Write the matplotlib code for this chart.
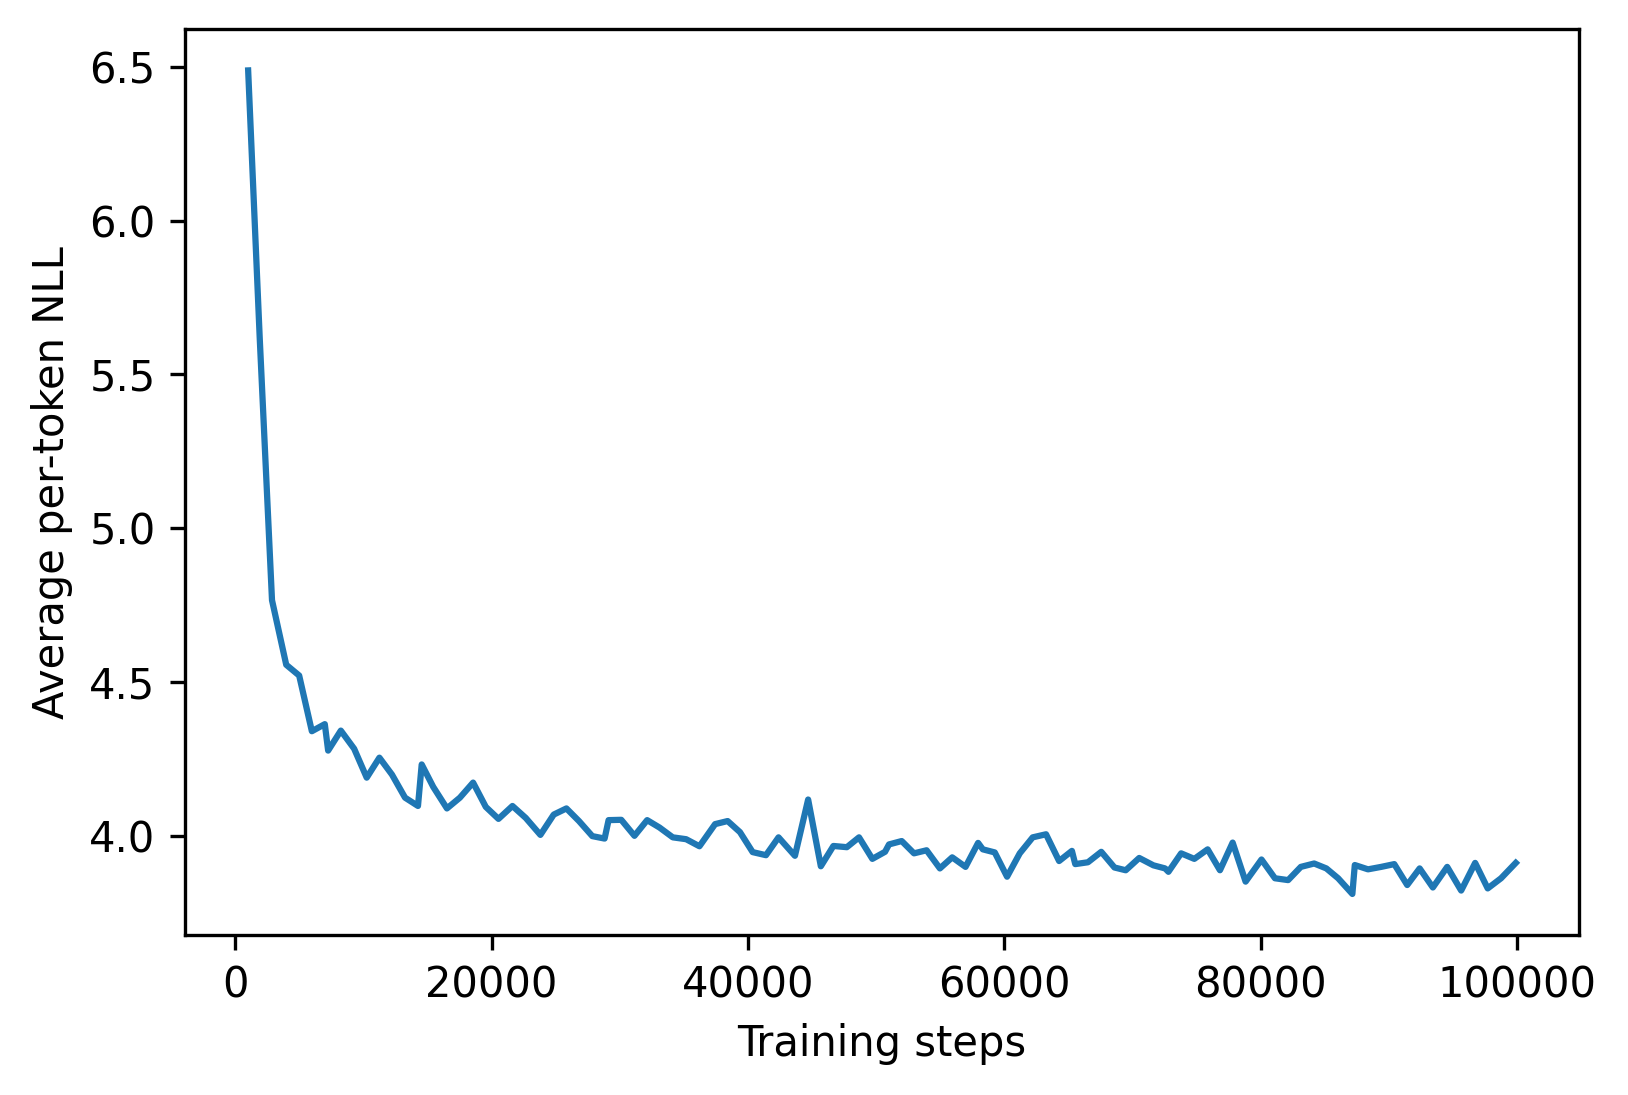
import matplotlib
matplotlib.use("Agg")
import matplotlib.pyplot as plt

steps = [1000, 1900, 2860, 3970, 4980, 5970, 6980, 7240, 8230, 9270,
         10250, 11240, 12220, 13240, 14250, 14540, 15440, 16510, 17520, 18550,
         19540, 20530, 21620, 22660, 23800, 24840, 25830, 26810, 27850, 28810,
         29120, 30110, 31140, 32130, 33090, 34130, 35170, 36210, 37430, 38410,
         39370, 40360, 41400, 42380, 43660, 44690, 45680, 46660, 47710, 48660,
         49700, 50690, 51000, 51990, 52950, 53930, 54970, 55930, 56970, 57950,
         58320, 59250, 60210, 61200, 62210, 63250, 64270, 65270, 65530, 66520,
         67560, 68590, 69470, 70520, 71630, 72540, 72800, 73790, 74820, 75860,
         76820, 77810, 78820, 80060, 81110, 82140, 83130, 84170, 85120, 86040,
         87150, 87340, 88370, 89400, 90420, 91430, 92400, 93430, 94550, 95640,
         96730, 97710, 98750, 99900]
nll = [6.488, 5.62, 4.766, 4.556, 4.521, 4.340, 4.363, 4.277, 4.342, 4.283,
       4.189, 4.254, 4.199, 4.124, 4.097, 4.232, 4.159, 4.089, 4.124, 4.173,
       4.094, 4.055, 4.097, 4.058, 4.003, 4.069, 4.089, 4.048, 3.999, 3.991,
       4.051, 4.052, 4.000, 4.051, 4.027, 3.995, 3.989, 3.966, 4.038, 4.048,
       4.012, 3.947, 3.937, 3.995, 3.935, 4.118, 3.901, 3.967, 3.963, 3.995,
       3.925, 3.948, 3.972, 3.983, 3.943, 3.953, 3.894, 3.930, 3.899, 3.977,
       3.956, 3.946, 3.867, 3.943, 3.995, 4.005, 3.918, 3.951, 3.908, 3.914,
       3.948, 3.897, 3.888, 3.928, 3.904, 3.894, 3.883, 3.943, 3.925, 3.956,
       3.888, 3.978, 3.851, 3.923, 3.862, 3.856, 3.899, 3.910, 3.894, 3.862,
       3.811, 3.905, 3.891, 3.899, 3.908, 3.840, 3.894, 3.832, 3.899, 3.822,
       3.912, 3.829, 3.862, 3.912]

DPI = 300
fig = plt.figure(figsize=(1628 / DPI, 1095 / DPI), dpi=DPI)
ax = fig.add_axes([0.1135, 0.146, 0.970 - 0.1135, 0.9733 - 0.146])
ax.plot(steps, nll, color="#1f77b4", linewidth=1.5)
ax.set_xlabel("Training steps")
ax.set_ylabel("Average per-token NLL")
fig.savefig("out.png", dpi=DPI)
